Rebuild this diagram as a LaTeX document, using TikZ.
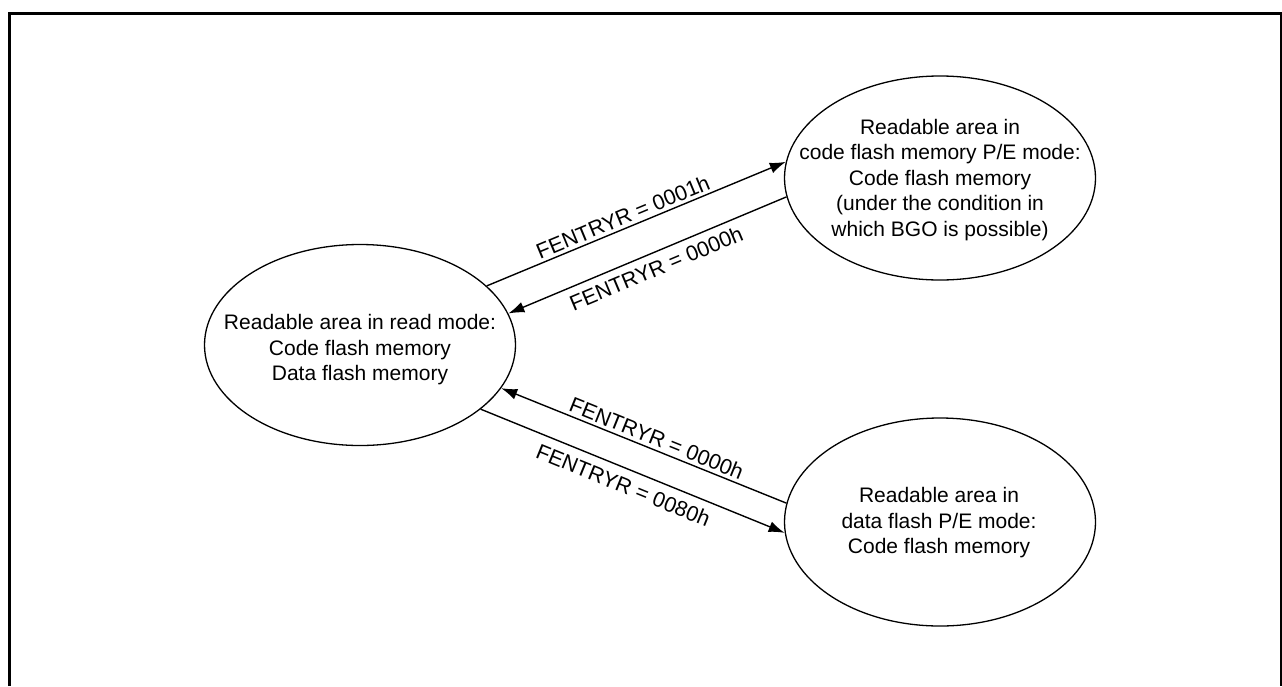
\documentclass[tikz,border=0pt]{standalone}
\usepackage{fontspec}
\setmainfont{Liberation Sans}
\usetikzlibrary{shapes.geometric,arrows.meta}
\begin{document}
\begin{tikzpicture}[x=1pt,y=-1pt,
  state/.style={ellipse,draw,line width=1.3pt,inner sep=0pt,minimum width=311pt,minimum height=201pt},
  stext/.style={align=center,font=\fontsize{21}{25.5}\selectfont,inner sep=0pt},
  conn/.style={line width=1.4pt,-{Latex[length=16pt,width=11pt]}},
  lbl/.style={sloped,font=\fontsize{21.5}{25}\selectfont,inner sep=3pt}]
\useasboundingbox (0,0) rectangle (1282,686);
\draw[line width=3pt] (9,686) -- (9,13.5) -- (1281.5,13.5) -- (1281.5,686);

\node[state] (L) at (360,345) {};
\node[stext] (Lt) at (360,350) {Readable area in read mode:\\Code flash memory\\Data flash memory};

\node[state,minimum height=204pt] (TR) at (940,178) {};
\node[stext] (TRt) at (940,180) {Readable area in\\code flash memory P/E mode:\\Code flash memory\\(under the condition in\\which BGO is possible)};

\node[state,minimum height=208pt] (BR) at (940,522) {};
\node[stext] (BRt) at (939,523) {Readable area in\\data flash P/E mode:\\Code flash memory};

\draw[conn] (L.25) -- node[lbl,above,pos=0.47] {FENTRYR = 0001h} (TR.174.8);
\draw[conn] (TR.187) -- node[lbl,below=4pt,pos=0.49] {FENTRYR = 0000h} (L.12.7);
\draw[conn] (BR.173.4) -- node[lbl,above,pos=0.47] {FENTRYR = 0000h} (L.-17);
\draw[conn] (L.-28.5) -- node[lbl,below=5pt,pos=0.49] {FENTRYR = 0080h} (BR.184.9);
\end{tikzpicture}
\end{document}
